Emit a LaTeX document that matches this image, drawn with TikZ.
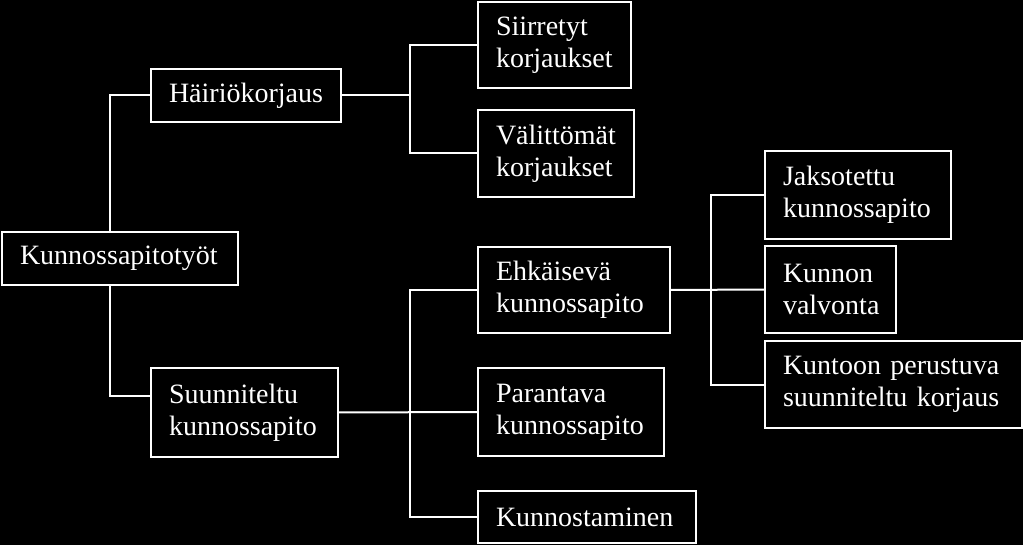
\documentclass[tikz,border=0pt]{standalone}
\usepackage{fontspec}
\setmainfont{Liberation Serif}
\usepackage{tikz}
\usetikzlibrary{positioning,calc}
\hyphenpenalty=10000
\exhyphenpenalty=10000

\tikzset{
  box/.style={draw=white, line width=2pt, text=white, anchor=north west,
    align=left, inner xsep=18pt, inner ysep=0pt, outer sep=0pt,
    font=\fontsize{28}{32}\selectfont},
  conn/.style={draw=white, line width=2pt}
}

\begin{document}
\begin{tikzpicture}[x=1pt,y=-1pt]
\path[use as bounding box, fill=black] (0,0) rectangle (1023,545);
% root
\node[box, text width=200pt, minimum height=53pt] (root) at (2,232) {Kunnossapitotyöt};
% level 1
\node[box, text width=154pt, minimum height=53pt] (hairio) at (151,69) {Häiriökorjaus};
\node[box, text width=151pt, minimum height=89pt] (suunn) at (151,368) {Suunniteltu\\kunnossapito};
% level 2
\node[box, text width=117pt, minimum height=86pt] (siirr) at (478,2) {Siirretyt\\korjaukset};
\node[box, text width=120pt, minimum height=87pt] (valit) at (478,110) {Välittömät\\korjaukset};
\node[box, text width=156pt, minimum height=86pt] (ehk) at (478,247) {Ehkäisevä\\kunnossapito};
\node[box, text width=150pt, minimum height=88pt] (parant) at (478,368) {Parantava\\kunnossapito};
\node[box, text width=182pt, minimum height=52pt] (kunnost) at (478,491) {Kunnostaminen};
% level 3
\node[box, text width=150pt, minimum height=88pt] (jakso) at (765,151) {Jaksotettu\\kunnossapito};
\node[box, text width=95pt, minimum height=87pt] (valv) at (765,246) {Kunnon\\valvonta};
\node[box, text width=221pt, minimum height=87pt] (kuntoon) at (765,341) {Kuntoon perustuva\\suunniteltu korjaus};
% spines
\coordinate (rootx) at (110,0);
\coordinate (midx) at (410,0);
\coordinate (ex) at (711,0);
% connectors
\draw[conn] (root.north -| rootx) |- (hairio.west);
\draw[conn] (root.south -| rootx) |- ([yshift=17pt]suunn.west);
\draw[conn] (hairio.east) -- (hairio.east -| midx);
\draw[conn] (siirr.west) -| (midx |- valit.west) -- (valit.west);
\draw[conn] (suunn.east) -- (parant.west);
\draw[conn] (ehk.west) -| (midx |- kunnost.west) -- (kunnost.west);
\draw[conn] (ehk.east) -- (valv.west);
\draw[conn] (jakso.west) -| (ex |- kuntoon.west) -- (kuntoon.west);
\end{tikzpicture}
\end{document}
